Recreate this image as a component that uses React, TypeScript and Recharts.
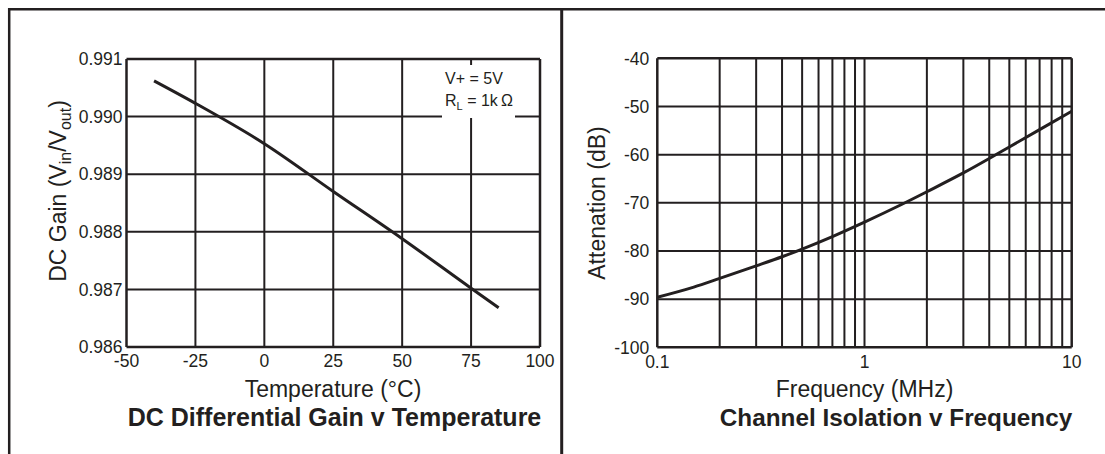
import { Line, LineChart, ReferenceLine, XAxis, YAxis } from 'recharts';

const temperature = [-40, -25, 0, 25, 50, 75, 85];
const dcGain = [0.99062, 0.99023, 0.98953, 0.9887, 0.98788, 0.98702, 0.98668];
const tempTicks = [-50, -25, 0, 25, 50, 75, 100];
const gainTicks = [0.986, 0.987, 0.988, 0.989, 0.99, 0.991];

const frequency = [0.1, 0.15, 0.2, 0.3, 0.4, 0.5, 0.7, 1, 1.5, 2, 3, 4, 5, 7, 10];
const attenuation = [-89.6, -87.5, -85.7, -83.1, -81.2, -79.6, -77.0, -74.0, -70.4, -67.7, -63.8, -60.8, -58.4, -54.8, -51.0];
const freqTicks = [0.1, 1, 10];
const freqGrid = [0.2, 0.3, 0.4, 0.5, 0.6, 0.7, 0.8, 0.9, 1, 2, 3, 4, 5, 6, 7, 8, 9];
const attTicks = [-100, -90, -80, -70, -60, -50, -40];

const ink = '#231f20';
const font = '"Liberation Sans", Arial, Helvetica, sans-serif';

const gainData = temperature.map((t, i) => ({ temp: t, gain: dcGain[i] }));
const isoData = frequency.map((f, i) => ({ freq: f, att: attenuation[i] }));

const tickStyle = { fill: ink, fontSize: 17.5 };
const frame = { stroke: ink, strokeWidth: 2.5 };

function GainChart() {
  return (
    <LineChart width={560} height={454} data={gainData} margin={{ top: 59, right: 20, bottom: 67, left: 0 }}>
      <XAxis
        dataKey="temp"
        type="number"
        domain={[-50, 100]}
        ticks={tempTicks}
        interval={0}
        height={40}
        tickLine={false}
        tickSize={8}
        tickMargin={0}
        axisLine={frame}
        tick={tickStyle}
      />
      <YAxis
        type="number"
        domain={[0.986, 0.991]}
        ticks={gainTicks}
        interval={0}
        width={126.5}
        tickLine={false}
        tickSize={4}
        tickMargin={0}
        axisLine={frame}
        tick={tickStyle}
        tickFormatter={(v: number) => v.toFixed(3)}
      />
      {tempTicks.slice(1, -1).map((t) => (
        <ReferenceLine key={'x' + t} x={t} stroke={ink} strokeWidth={2} />
      ))}
      {gainTicks.slice(1, -1).map((g) => (
        <ReferenceLine key={'y' + g} y={g} stroke={ink} strokeWidth={2} />
      ))}
      <ReferenceLine x={100} {...frame} />
      <ReferenceLine y={0.991} {...frame} />
      <Line dataKey="gain" type="monotone" stroke={ink} strokeWidth={3} dot={false} isAnimationActive={false} />
    </LineChart>
  );
}

function IsolationChart() {
  return (
    <LineChart width={541} height={454} data={isoData} margin={{ top: 58.3, right: 33.3, bottom: 66.7, left: 0 }}>
      <XAxis
        dataKey="freq"
        type="number"
        scale="log"
        domain={[0.1, 10]}
        ticks={freqTicks}
        interval={0}
        height={40}
        tickLine={false}
        tickSize={8}
        tickMargin={0}
        axisLine={frame}
        tick={tickStyle}
        tickFormatter={(v: number) => String(v)}
        allowDataOverflow
      />
      <YAxis
        type="number"
        domain={[-100, -40]}
        ticks={attTicks}
        interval={0}
        width={93.3}
        tickLine={false}
        tickSize={8}
        tickMargin={0}
        axisLine={frame}
        tick={tickStyle}
      />
      {freqGrid.map((f) => (
        <ReferenceLine key={'x' + f} x={f} stroke={ink} strokeWidth={2} />
      ))}
      {attTicks.slice(1, -1).map((a) => (
        <ReferenceLine key={'y' + a} y={a} stroke={ink} strokeWidth={2} />
      ))}
      <ReferenceLine x={10} {...frame} />
      <ReferenceLine y={-40} {...frame} />
      <Line dataKey="att" type="monotone" stroke={ink} strokeWidth={3} dot={false} isAnimationActive={false} />
    </LineChart>
  );
}

function Overlay() {
  return (
    <svg width={1105} height={454} style={{ position: 'absolute', left: 0, top: 0, pointerEvents: 'none' }}>
      {/* page frame */}
      <line x1={8} y1={9.3} x2={1105} y2={9.3} stroke={ink} strokeWidth={2.5} />
      <line x1={9.2} y1={8} x2={9.2} y2={454} stroke={ink} strokeWidth={2.5} />
      <line x1={561.7} y1={8} x2={561.7} y2={454} stroke={ink} strokeWidth={3} />

      {/* conditions box */}
      <rect x={442} y={65} width={73} height={53} fill="#fff" />
      <text x={445} y={83.5} fontSize={16} fill={ink}>V+ = 5V</text>
      <text x={445} y={106} fontSize={16} fill={ink}>
        R<tspan fontSize={11} dy={4}>L</tspan>
        <tspan dy={-4}> = 1k{'\u2009'}Ω</tspan>
      </text>

      {/* left chart labels */}
      <text x={66} y={191} fontSize={23} fill={ink} textAnchor="middle" transform="rotate(-90 66 191)">
        DC Gain (V<tspan fontSize={16} dy={5}>in</tspan>
        <tspan dy={-5}>/V</tspan>
        <tspan fontSize={16} dy={5}>out</tspan>
        <tspan dy={-5}>)</tspan>
      </text>
      <text x={333} y={397} fontSize={23} fill={ink} textAnchor="middle">Temperature (°C)</text>
      <text x={334.5} y={425.5} fontSize={25} fontWeight="bold" fill={ink} textAnchor="middle">
        DC Differential Gain v Temperature
      </text>

      {/* right chart labels */}
      <text x={605} y={203} fontSize={23} fill={ink} textAnchor="middle" transform="rotate(-90 605 203)">
        Attenation (dB)
      </text>
      <text x={864.5} y={397} fontSize={23} fill={ink} textAnchor="middle">Frequency (MHz)</text>
      <text x={896} y={425.5} fontSize={24.3} fontWeight="bold" fill={ink} textAnchor="middle">
        Channel Isolation v Frequency
      </text>
    </svg>
  );
}

export default function App() {
  return (
    <div
      style={{
        position: 'absolute',
        left: 0,
        top: 0,
        width: 1105,
        height: 454,
        background: '#fff',
        overflow: 'hidden',
        fontFamily: font,
      }}
    >
      <div style={{ position: 'absolute', left: 0, top: 0 }}>
        <GainChart />
      </div>
      <div style={{ position: 'absolute', left: 564, top: 0 }}>
        <IsolationChart />
      </div>
      <Overlay />
    </div>
  );
}
